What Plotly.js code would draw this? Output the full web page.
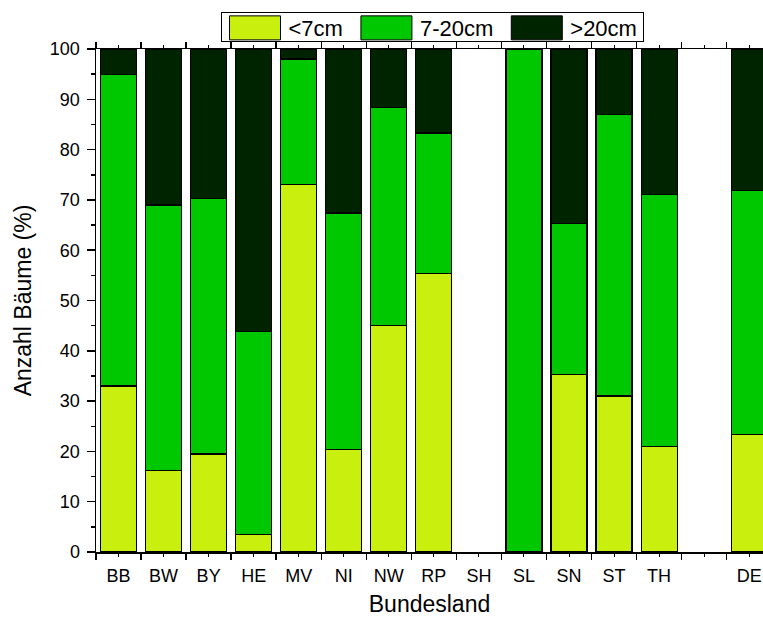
<!DOCTYPE html>
<html>
<head>
<meta charset="utf-8">
<script src="https://cdn.plot.ly/plotly-3.0.1.min.js"></script>
<style>html,body{margin:0;padding:0;background:#fff}#chart{width:763px;height:617px}</style>
</head>
<body>
<div id="chart"></div>
<script>
// Data
const categories = ['BB','BW','BY','HE','MV','NI','NW','RP','SH','SL','SN','ST','TH','','DE'];
const small   = [33.0, 16.2, 19.5, 3.5, 73.0, 20.3, 45.0, 55.4, 0, 0,   35.3, 31.0, 21.0, 0, 23.3]; // <7cm
const medium  = [62.0, 52.8, 50.7, 40.3, 25.0, 47.1, 43.4, 27.9, 0, 100, 30.0, 56.0, 50.0, 0, 48.5]; // 7-20cm
const large   = [5.0, 31.0, 29.8, 56.2, 2.0, 32.6, 11.6, 16.7, 0, 0,   34.7, 13.0, 29.0, 0, 28.2]; // >20cm
const seriesNames = ['<7cm', '7-20cm', '>20cm'];
const yTicks = [0,10,20,30,40,50,60,70,80,90,100];

const colors = ['#C8EF0E', '#00C800', '#002300'];
const xs = categories.map((c, i) => i);
const boundaries = categories.map((c, i) => i - 0.5).concat([categories.length - 0.5]);
const font = 'Liberation Sans, Arial, sans-serif';

const traces = [small, medium, large].map((vals, k) => ({
  type: 'bar',
  name: seriesNames[k],
  x: xs,
  y: vals.map(v => (v === 0 ? null : v)),
  width: 0.8,
  marker: {color: colors[k], line: {color: '#000', width: 1.2}},
  hoverinfo: 'skip'
}));

const xRange = [-0.5, 14.306];
const layout = {
  width: 763, height: 617,
  margin: {l: 96, r: 0, t: 49, b: 65, autoexpand: false},
  paper_bgcolor: '#fff', plot_bgcolor: '#fff',
  barmode: 'stack',
  font: {family: font, color: '#000', size: 18},
  showlegend: true,
  legend: {
    orientation: 'h', x: 0.5, xanchor: 'center', y: 1.0865, yanchor: 'top',
    bordercolor: '#000', borderwidth: 1, bgcolor: '#fff',
    font: {family: font, size: 22, color: '#000'}, itemwidth: 62, traceorder: 'normal'
  },
  xaxis: {
    range: xRange, tickmode: 'array', tickvals: xs, ticktext: categories,
    ticks: 'outside', ticklen: 3, tickwidth: 1, tickcolor: '#000',
    minor: {tickmode: 'array', tickvals: boundaries, ticks: 'outside', ticklen: 6, tickwidth: 1.5, tickcolor: '#000'},
    tickfont: {family: font, size: 18, color: '#000'}, ticklabelstandoff: 4,
    showline: true, linewidth: 1.5, linecolor: '#000', mirror: 'ticks',
    showgrid: false, zeroline: false, automargin: true,
    title: {text: 'Bundesland', font: {family: font, size: 23, color: '#000'}, standoff: 17}
  },
  yaxis: {
    range: [0, 100], tickmode: 'array', tickvals: yTicks,
    ticks: 'outside', ticklen: 8, tickwidth: 1.5, tickcolor: '#000',
    minor: {dtick: 5, tick0: 0, ticks: 'outside', ticklen: 4, tickwidth: 1.5, tickcolor: '#000'},
    tickfont: {family: font, size: 18, color: '#000'}, ticklabelstandoff: 3,
    showline: true, linewidth: 1.5, linecolor: '#000',
    showgrid: false, zeroline: false, automargin: true,
    title: {text: 'Anzahl Bäume (%)', font: {family: font, size: 23, color: '#000'}, standoff: 12}
  }
};

Plotly.newPlot('chart', traces, layout, {displayModeBar: false, staticPlot: true}).then(() => {
  const svg = document.querySelector('#chart svg.main-svg');
  const toLocal = (el, x, y) => {
    const pt = svg.createSVGPoint(); pt.x = x; pt.y = y;
    return pt.matrixTransform(el.getScreenCTM().inverse());
  };
  // Wider legend swatches, like the reference
  document.querySelectorAll('.legend .traces').forEach(g => {
    const text = g.querySelector('text.legendtext');
    const path = g.querySelector('.legendpoints path');
    if (!text || !path) return;
    const tb = text.getBoundingClientRect();
    path.removeAttribute('transform');
    const x1 = tb.left - 8, x0 = x1 - 51;
    const yc = tb.top + tb.height / 2 - 0.5;
    const a = toLocal(path, x0, yc - 12), b = toLocal(path, x1, yc + 12);
    path.setAttribute('d', `M${a.x},${a.y}H${b.x}V${b.y}H${a.x}Z`);
    path.style.strokeWidth = '1px';
    path.style.stroke = '#000';
  });
  // Slimmer legend box with the reference's left padding
  const bg = document.querySelector('.legend rect.bg');
  if (bg) {
    const h = parseFloat(bg.getAttribute('height'));
    const y = parseFloat(bg.getAttribute('y') || 0);
    const x = parseFloat(bg.getAttribute('x') || 0);
    const w = parseFloat(bg.getAttribute('width'));
    const nh = 29;
    bg.setAttribute('y', y + (h - nh) / 2);
    bg.setAttribute('height', nh);
    bg.setAttribute('x', x + 5);
    bg.setAttribute('width', w - 5);
  }
});
</script>
</body>
</html>
